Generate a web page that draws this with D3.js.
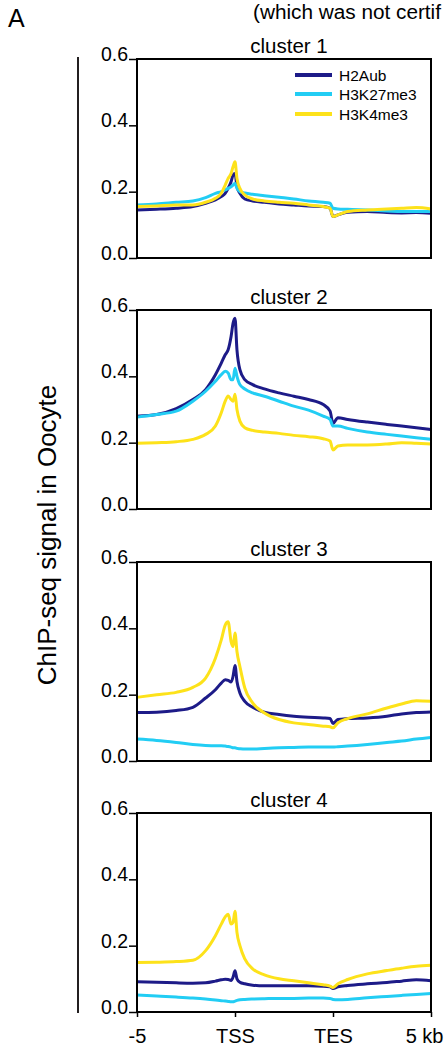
<!DOCTYPE html>
<html><head><meta charset="utf-8">
<script src="https://cdn.jsdelivr.net/npm/d3@7"></script>
<style>
html,body{margin:0;padding:0;background:#fff;}
svg{display:block;font-family:"Liberation Sans",Arial,sans-serif;}
</style></head>
<body>
<svg id="c" width="446" height="1049"></svg>
<script>
// positions along the metagene: 0 = -5 kb, 100 = TSS, 200 = TES, 300 = +5 kb
const positions = [0,20,40,57,70,80,86,90,93,96,98,100,102,105,110,118,130,145,160,175,190,197,200,205,215,235,255,270,285,300];
const xTickValues = [0,100,200,300];
const xTickLabels = ["-5","TSS","TES","5 kb"];
const yTickValues = [0,0.2,0.4,0.6];
const clusters = ["cluster 1","cluster 2","cluster 3","cluster 4"];
const seriesNames = ["H2Aub","H3K27me3","H3K4me3"];
const seriesColors = ["#1d1b88","#22cdf4","#fde21a"];

const c1_H2Aub    = [0.145,0.147,0.150,0.155,0.165,0.175,0.185,0.195,0.210,0.230,0.250,0.255,0.215,0.195,0.178,0.172,0.168,0.163,0.160,0.157,0.155,0.150,0.125,0.130,0.138,0.140,0.137,0.136,0.137,0.135];
const c1_H3K27me3 = [0.160,0.163,0.168,0.172,0.182,0.195,0.200,0.205,0.210,0.215,0.220,0.225,0.210,0.200,0.196,0.192,0.188,0.183,0.178,0.172,0.168,0.165,0.150,0.148,0.147,0.145,0.142,0.140,0.140,0.140];
const c1_H3K4me3  = [0.155,0.157,0.160,0.160,0.168,0.180,0.195,0.220,0.240,0.255,0.275,0.290,0.240,0.210,0.190,0.178,0.172,0.168,0.165,0.160,0.155,0.150,0.125,0.130,0.140,0.145,0.148,0.150,0.152,0.148];

const c2_H2Aub    = [0.280,0.285,0.303,0.330,0.360,0.405,0.440,0.465,0.480,0.520,0.560,0.575,0.480,0.420,0.390,0.375,0.362,0.350,0.340,0.330,0.315,0.295,0.258,0.275,0.270,0.262,0.255,0.250,0.245,0.240];
const c2_H3K27me3 = [0.277,0.285,0.295,0.325,0.355,0.385,0.405,0.415,0.410,0.390,0.390,0.424,0.400,0.375,0.362,0.350,0.340,0.325,0.310,0.298,0.280,0.270,0.250,0.250,0.243,0.232,0.225,0.220,0.215,0.210];
const c2_H3K4me3  = [0.198,0.200,0.203,0.210,0.225,0.250,0.290,0.325,0.341,0.330,0.325,0.346,0.300,0.265,0.245,0.237,0.232,0.228,0.222,0.218,0.212,0.205,0.178,0.190,0.193,0.193,0.196,0.200,0.198,0.196];

const c3_H2Aub    = [0.146,0.147,0.152,0.162,0.190,0.215,0.235,0.245,0.243,0.238,0.255,0.288,0.240,0.205,0.180,0.162,0.147,0.140,0.135,0.132,0.130,0.128,0.113,0.125,0.128,0.130,0.135,0.142,0.146,0.148];
const c3_H3K27me3 = [0.066,0.062,0.056,0.050,0.047,0.046,0.046,0.045,0.044,0.042,0.040,0.040,0.038,0.037,0.036,0.036,0.038,0.040,0.041,0.042,0.042,0.042,0.042,0.043,0.045,0.050,0.056,0.060,0.066,0.071];
const c3_H3K4me3  = [0.192,0.200,0.207,0.222,0.250,0.310,0.365,0.410,0.420,0.360,0.345,0.386,0.330,0.285,0.220,0.175,0.145,0.125,0.115,0.110,0.105,0.103,0.100,0.115,0.128,0.142,0.160,0.172,0.182,0.180];

const c4_H2Aub    = [0.091,0.090,0.088,0.087,0.088,0.093,0.097,0.099,0.098,0.095,0.105,0.124,0.100,0.090,0.085,0.081,0.079,0.079,0.079,0.079,0.078,0.076,0.071,0.076,0.080,0.085,0.089,0.093,0.097,0.094];
const c4_H3K27me3 = [0.051,0.048,0.045,0.042,0.039,0.036,0.034,0.033,0.032,0.031,0.031,0.033,0.035,0.037,0.038,0.039,0.040,0.041,0.041,0.042,0.042,0.041,0.038,0.037,0.038,0.043,0.047,0.050,0.053,0.056];
const c4_H3K4me3  = [0.149,0.150,0.152,0.156,0.185,0.230,0.265,0.287,0.295,0.265,0.270,0.304,0.240,0.200,0.160,0.130,0.112,0.100,0.094,0.088,0.082,0.078,0.074,0.085,0.098,0.115,0.125,0.132,0.138,0.141];

const panelData = [
  [c1_H2Aub,c1_H3K27me3,c1_H3K4me3],
  [c2_H2Aub,c2_H3K27me3,c2_H3K4me3],
  [c3_H2Aub,c3_H3K27me3,c3_H3K4me3],
  [c4_H2Aub,c4_H3K27me3,c4_H3K4me3]
];

const svg = d3.select("#c");
const left = 137, right = 431, ph = 199;
const tops = [59,310,562,813];
const x = d3.scaleLinear().domain([0,300]).range([left,right]);

// header fragments
svg.append("text").attr("x",8).attr("y",27).attr("font-size",25).text("A");
svg.append("text").attr("x",253).attr("y",18.5).attr("font-size",20)
  .attr("textLength",188).attr("lengthAdjust","spacingAndGlyphs").text("(which was not certif");

// y-axis title and bar
svg.append("line").attr("x1",78).attr("x2",78).attr("y1",57).attr("y2",1013)
  .attr("stroke","#231f20").attr("stroke-width",2);
svg.append("text").attr("transform","translate(55.5,535) rotate(-90)")
  .attr("text-anchor","middle").attr("font-size",26).text("ChIP-seq signal in Oocyte");

panelData.forEach((series,i)=>{
  const top = tops[i];
  const y = d3.scaleLinear().domain([0,0.6]).range([top+ph, top]);
  const g = svg.append("g");
  // title
  g.append("text").attr("x",289).attr("y",top-6.5).attr("text-anchor","middle")
    .attr("font-size",20.5).text(clusters[i]);
  // y axis
  const ya = g.append("g").attr("transform",`translate(${left},0)`)
    .call(d3.axisLeft(y).tickValues(yTickValues).tickSize(8).tickPadding(1).tickFormat(d3.format(".1f")));
  ya.select(".domain").remove();
  ya.selectAll(".tick line").attr("stroke","#000").attr("stroke-width",1.5);
  ya.selectAll(".tick text").attr("dy","0").attr("y",1.5).attr("font-size",19.5)
    .attr("font-family","Liberation Sans, Arial, sans-serif").attr("fill","#000");
  // lines
  const line = d3.line().x((d,k)=>x(positions[k])).y(d=>y(d)).curve(d3.curveMonotoneX);
  series.forEach((vals,s)=>{
    g.append("path").datum(vals).attr("d",line).attr("fill","none")
      .attr("stroke",seriesColors[s]).attr("stroke-width",3).attr("stroke-linejoin","round");
  });
  // frame
  g.append("rect").attr("x",left).attr("y",top).attr("width",right-left).attr("height",ph)
    .attr("fill","none").attr("stroke","#000").attr("stroke-width",2);
  // x axis on last panel
  if(i===3){
    const xa = g.append("g").attr("transform",`translate(0,${top+ph})`)
      .call(d3.axisBottom(x).tickValues(xTickValues).tickSize(5).tickPadding(12)
        .tickFormat((d,k)=>xTickLabels[k]));
    xa.select(".domain").remove();
    xa.selectAll(".tick line").attr("stroke","#000").attr("stroke-width",1.5);
    xa.selectAll(".tick text").attr("font-size",20).attr("fill","#000")
      .attr("font-family","Liberation Sans, Arial, sans-serif");
    xa.selectAll(".tick text").filter((d,k)=>k===3).attr("text-anchor","end").attr("dx",12);
  }
  // legend in first panel
  if(i===0){
    const rows = [75,94,114];
    seriesNames.forEach((n,s)=>{
      g.append("line").attr("x1",295).attr("x2",332).attr("y1",rows[s]).attr("y2",rows[s])
        .attr("stroke",seriesColors[s]).attr("stroke-width",4);
      g.append("text").attr("x",339).attr("y",rows[s]+5.5).attr("font-size",15.5).text(n);
    });
  }
});
</script>
</body></html>
